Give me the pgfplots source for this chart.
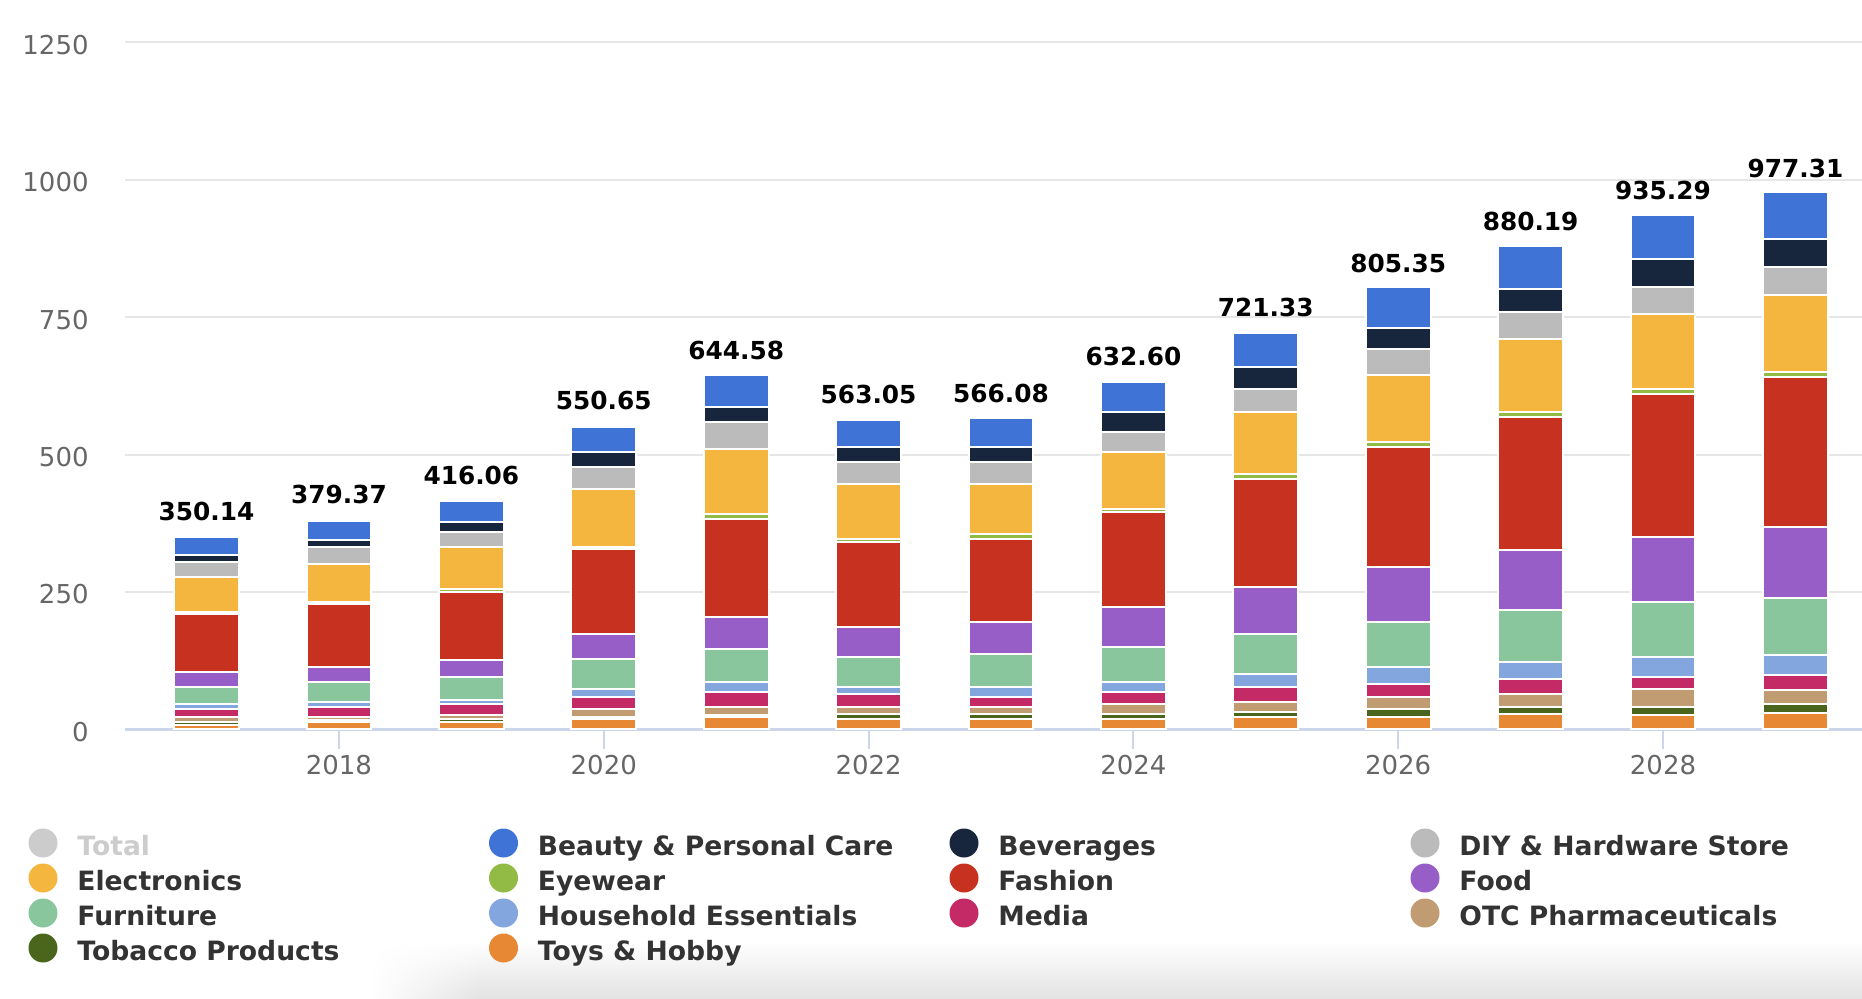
\documentclass[border=0pt]{standalone}
\usepackage{pgfplots}
\usepackage{pgfplotstable}
\pgfplotsset{compat=1.18}
\usepackage{fontspec}
\setmainfont{DejaVu Sans}
\usetikzlibrary{fadings}

\definecolor{cbeauty}{HTML}{3F74D6}
\definecolor{cbev}{HTML}{17263D}
\definecolor{cdiy}{HTML}{BBBBBB}
\definecolor{celec}{HTML}{F4B63F}
\definecolor{ceye}{HTML}{92BB45}
\definecolor{cfash}{HTML}{C7311F}
\definecolor{cfood}{HTML}{985EC7}
\definecolor{cfurn}{HTML}{89C59D}
\definecolor{chouse}{HTML}{82A6DD}
\definecolor{cmedia}{HTML}{C42A65}
\definecolor{cotc}{HTML}{C19C72}
\definecolor{ctob}{HTML}{4A661D}
\definecolor{ctoys}{HTML}{E78834}
\definecolor{ctotal}{HTML}{CCCCCC}
\definecolor{axiscol}{HTML}{CCD6EB}
\definecolor{gridcol}{HTML}{E6E6E6}
\definecolor{tickcol}{HTML}{666666}
\definecolor{legcol}{HTML}{333333}

\pgfplotstableread{
year toys tob otc media house furn food fash eye elec diy bev beauty total
2017 8.5 4.2 9.4 14.0 9.4 31.3 27.3 105.3 3.6 64.0 27.3 13.7 32.14 350.14
2018 12.7 4.9 4.9 18.2 8.5 36.7 27.3 114.4 4.2 68.3 31.6 13.7 33.97 379.37
2019 13.0 5.5 8.2 18.5 8.8 41.0 31.9 122.9 4.9 77.1 27.3 18.2 38.76 416.06
2020 17.9 4.2 14.0 22.5 14.0 54.6 45.5 154.8 4.2 105.0 40.7 27.6 45.65 550.65
2021 22.5 4.2 13.7 27.3 18.2 59.5 58.9 178.4 8.5 118.4 49.8 27.3 57.88 644.58
2022 18.2 8.8 13.4 23.1 13.4 54.6 54.6 154.8 4.9 100.1 40.7 27.3 49.15 563.05
2023 18.2 8.8 13.4 18.2 18.2 60.4 58.0 150.8 8.8 91.0 40.7 27.3 52.28 566.08
2024 18.2 8.8 18.2 22.8 18.2 63.4 73.1 172.7 4.9 104.4 36.4 36.4 55.10 632.60
2025 22.2 9.1 18.2 27.3 23.1 72.8 86.2 196.5 8.5 113.5 41.3 40.7 61.93 721.33
2026 22.4 14.1 22.2 22.9 31.3 81.8 100.0 219.3 8.8 122.9 46.1 39.4 74.15 805.35
2027 27.1 13.5 23.6 26.9 31.3 95.6 109.1 241.1 9.1 133.0 48.8 42.1 78.99 880.19
2028 26.8 13.5 32.3 22.2 36.7 100.0 118.5 259.7 9.1 136.4 49.8 50.5 79.79 935.29
2029 30.5 14.8 26.9 26.9 36.0 104.4 128.7 273.1 9.1 140.8 49.8 50.5 85.81 977.31
}\data

\tikzfading[name=fadeL, left color=transparent!100, right color=transparent!0]

\newcommand{\liftlabel}[1]{%
  \pgfmathsetlengthmacro\mylift{max(0,0.0104*(#1-350))*1pt}%
  \raisebox{\mylift}{#1}}

\begin{document}
\begin{tikzpicture}
\useasboundingbox (0,0) rectangle (931pt,499pt);
% soft shadow at the bottom
\shade[top color=white, bottom color=black!11] (240pt,0pt) rectangle (931pt,28pt);
\shade[top color=white, bottom color=black!11, path fading=fadeL, fit fading=true] (185pt,0pt) rectangle (240.5pt,28pt);

\begin{axis}[
  at={(62.5pt,134.35pt)}, anchor=south west,
  scale only axis, width=868.5pt, height=343.4pt,
  xmin=2016.384, xmax=2029.503, ymin=0, ymax=1250,
  enlargelimits=false,
  ybar stacked, bar width=0.49,
  axis x line*=bottom, axis y line*=left,
  y axis line style={draw=none},
  x axis line style={draw=axiscol, line width=1.2pt, -},
  xtick={2018,2020,...,2028}, ytick={0,250,...,1250},
  ymajorgrids, major grid style={draw=gridcol, line width=1pt},
  tick align=outside, major tick length=10pt,
  x tick style={draw=axiscol, line width=1pt},
  y tick style={draw=none},
  /pgf/number format/1000 sep={},
  /pgf/number format/assume math mode=true,
  tick label style={font=\fontsize{13pt}{15pt}\selectfont, text=tickcol},
  xticklabel style={anchor=base, inner sep=0pt, yshift=-12.4pt},
  yticklabel style={anchor=base east, inner sep=0pt, xshift=-8pt, yshift=-6pt},
  every axis plot/.append style={draw=white, line width=1pt},
]
\addplot[fill=ctoys] table[x=year,y=toys] {\data};
\addplot[fill=ctob] table[x=year,y=tob] {\data};
\addplot[fill=cotc] table[x=year,y=otc] {\data};
\addplot[fill=cmedia] table[x=year,y=media] {\data};
\addplot[fill=chouse] table[x=year,y=house] {\data};
\addplot[fill=cfurn] table[x=year,y=furn] {\data};
\addplot[fill=cfood] table[x=year,y=food] {\data};
\addplot[fill=cfash] table[x=year,y=fash] {\data};
\addplot[fill=ceye] table[x=year,y=eye] {\data};
\addplot[fill=celec] table[x=year,y=elec] {\data};
\addplot[fill=cdiy] table[x=year,y=diy] {\data};
\addplot[fill=cbev] table[x=year,y=bev] {\data};
\addplot[fill=cbeauty, point meta=explicit symbolic,
  nodes near coords={\liftlabel{\pgfplotspointmeta}},
  nodes near coords style={font=\fontsize{12.4pt}{14pt}\selectfont\bfseries, text=black, anchor=base, inner sep=0pt, yshift=12.8pt}]
  table[x=year,y=beauty,meta=total] {\data};
\end{axis}

% legend
\fill[ctotal] (21.5pt,77.5pt) circle (7.25pt);
\node[anchor=base west, inner sep=0pt, font=\fontsize{13.3pt}{15pt}\selectfont\bfseries, text=ctotal] at (38.5pt,71.15pt) {Total};
\fill[cbeauty] (251.75pt,77.5pt) circle (7.25pt);
\node[anchor=base west, inner sep=0pt, font=\fontsize{13.3pt}{15pt}\selectfont\bfseries, text=legcol] at (268.75pt,71.15pt) {Beauty \& Personal Care};
\fill[cbev] (482pt,77.5pt) circle (7.25pt);
\node[anchor=base west, inner sep=0pt, font=\fontsize{13.3pt}{15pt}\selectfont\bfseries, text=legcol] at (499pt,71.15pt) {Beverages};
\fill[cdiy] (712.5pt,77.5pt) circle (7.25pt);
\node[anchor=base west, inner sep=0pt, font=\fontsize{13.3pt}{15pt}\selectfont\bfseries, text=legcol] at (729.5pt,71.15pt) {DIY \& Hardware Store};

\fill[celec] (21.5pt,60pt) circle (7.25pt);
\node[anchor=base west, inner sep=0pt, font=\fontsize{13.3pt}{15pt}\selectfont\bfseries, text=legcol] at (38.5pt,53.65pt) {Electronics};
\fill[ceye] (251.75pt,60pt) circle (7.25pt);
\node[anchor=base west, inner sep=0pt, font=\fontsize{13.3pt}{15pt}\selectfont\bfseries, text=legcol] at (268.75pt,53.65pt) {Eyewear};
\fill[cfash] (482pt,60pt) circle (7.25pt);
\node[anchor=base west, inner sep=0pt, font=\fontsize{13.3pt}{15pt}\selectfont\bfseries, text=legcol] at (499pt,53.65pt) {Fashion};
\fill[cfood] (712.5pt,60pt) circle (7.25pt);
\node[anchor=base west, inner sep=0pt, font=\fontsize{13.3pt}{15pt}\selectfont\bfseries, text=legcol] at (729.5pt,53.65pt) {Food};

\fill[cfurn] (21.5pt,42.5pt) circle (7.25pt);
\node[anchor=base west, inner sep=0pt, font=\fontsize{13.3pt}{15pt}\selectfont\bfseries, text=legcol] at (38.5pt,36.15pt) {Furniture};
\fill[chouse] (251.75pt,42.5pt) circle (7.25pt);
\node[anchor=base west, inner sep=0pt, font=\fontsize{13.3pt}{15pt}\selectfont\bfseries, text=legcol] at (268.75pt,36.15pt) {Household Essentials};
\fill[cmedia] (482pt,42.5pt) circle (7.25pt);
\node[anchor=base west, inner sep=0pt, font=\fontsize{13.3pt}{15pt}\selectfont\bfseries, text=legcol] at (499pt,36.15pt) {Media};
\fill[cotc] (712.5pt,42.5pt) circle (7.25pt);
\node[anchor=base west, inner sep=0pt, font=\fontsize{13.3pt}{15pt}\selectfont\bfseries, text=legcol] at (729.5pt,36.15pt) {OTC Pharmaceuticals};

\fill[ctob] (21.5pt,25pt) circle (7.25pt);
\node[anchor=base west, inner sep=0pt, font=\fontsize{13.3pt}{15pt}\selectfont\bfseries, text=legcol] at (38.5pt,18.65pt) {Tobacco Products};
\fill[ctoys] (251.75pt,25pt) circle (7.25pt);
\node[anchor=base west, inner sep=0pt, font=\fontsize{13.3pt}{15pt}\selectfont\bfseries, text=legcol] at (268.75pt,18.65pt) {Toys \& Hobby};
\end{tikzpicture}
\end{document}
